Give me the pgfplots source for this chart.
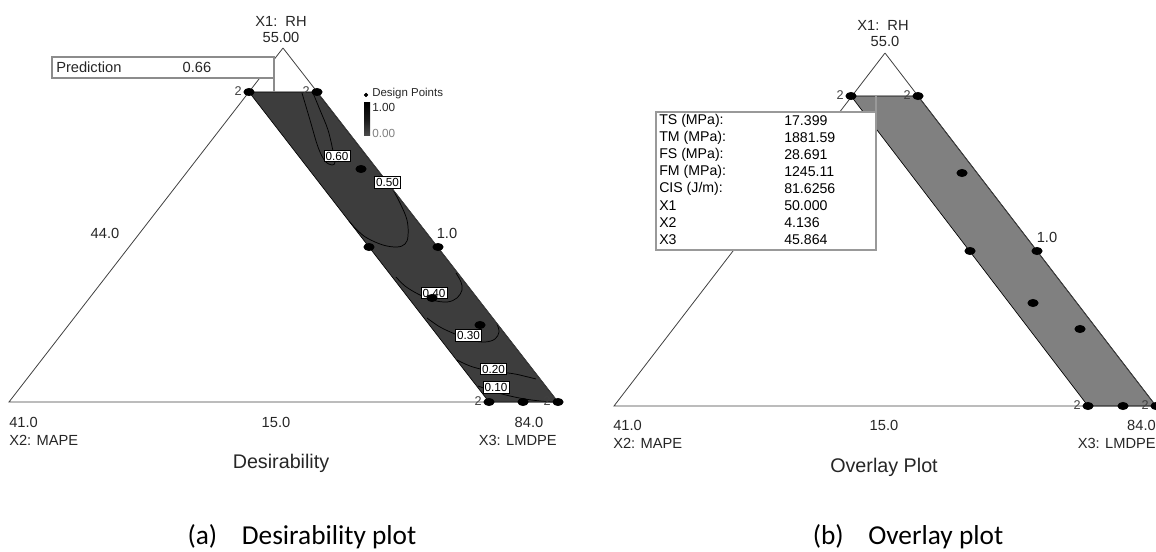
\documentclass[border=0pt]{standalone}
\usepackage{pgfplots}
\pgfplotsset{compat=1.18}
\usepackage{fontspec}
\setmainfont{Liberation Sans}
\newfontfamily\capfont{Carlito}
\tikzset{
  lbl/.style={font=\fontsize{11}{12}\selectfont, inner sep=0pt, text=black!85},
  two/.style={font=\fontsize{9.5}{10}\selectfont, inner sep=0pt, text=black!75, anchor=east},
  clab/.style={draw=black, fill=white, line width=0.4pt, inner sep=1.2pt, font=\fontsize{8.8}{9}\selectfont},
  boxt/.style={font=\fontsize{10.6}{12}\selectfont, inner sep=0pt, anchor=west},
}
\pgfplotsset{
  dots/.style={only marks, mark=*, mark size=2.8pt, mark options={fill=black, draw=black, xscale=1.4}},
  cont/.style={black, line width=0.55pt, smooth, tension=0.6},
}
\begin{document}
\begin{tikzpicture}
\begin{axis}[
  scale only axis, width=867pt, height=414pt,
  xmin=0, xmax=1156, ymin=0, ymax=552, y dir=reverse,
  hide axis, clip=false,
]
% ================= LEFT: Desirability =================
\addplot[fill=black!76, draw=black, line width=0.5pt] coordinates {(249,92) (317,92) (558,402) (489,402) (249,92)};
% contours
\addplot[cont] coordinates {(302,93) (310,120) (318,147) (325,161) (332,165) (335,162) (333,151) (328,130) (320,110) (313,93)};
\addplot[cont] coordinates {(349,221) (357,230) (367,238) (383,245) (397,247) (405,244) (408,236) (407,220) (400,203) (392,188)};
\addplot[cont] coordinates {(396,277) (405,286) (418,294) (432,300) (447,302) (457,298) (462,290) (461,282) (456,273)};
\addplot[cont] coordinates {(427,318) (440,327) (455,334) (470,340) (485,342) (495,339) (499,332) (497,324)};
\addplot[cont] coordinates {(457,360) (470,366) (485,370) (500,372) (515,374) (528,377) (536,379)};
\addplot[cont] coordinates {(478,386) (495,392) (510,396) (525,399) (540,401) (552,402)};
% triangle
\addplot[draw=black!75, line width=0.6pt] coordinates {(283,48) (9,402) (558,402) (283,48)};
% prediction box
\draw[fill=white, draw=black!45, line width=0.8pt] (axis cs:52,57) rectangle (axis cs:274,78);
\draw[draw=black!45, line width=0.8pt] (axis cs:274,78) -- (axis cs:274,92);
\node[lbl, anchor=west] at (axis cs:56,67.5) {Prediction};
\node[lbl] at (axis cs:197,67.5) {0.66};
% design points
\addplot[dots] coordinates {(249,92) (317,92) (361,169) (369,247) (438,247) (432,298) (480,325) (489,402) (523,402) (558,402)};
\node[two] at (axis cs:242,91) {2};
\node[two] at (axis cs:310,91) {2};
\node[two] at (axis cs:482,401) {2};
\node[two] at (axis cs:551,401) {2};
% contour labels
\node[clab] at (axis cs:337,156) {0.60};
\node[clab] at (axis cs:387.5,182.5) {0.50};
\node[clab] at (axis cs:434,293) {0.40};
\node[clab] at (axis cs:468.5,335.5) {0.30};
\node[clab] at (axis cs:493.5,369) {0.20};
\node[clab] at (axis cs:496,387.5) {0.10};
% legend
\addplot[only marks, mark=*, mark size=1.4pt, mark options={fill=black}] coordinates {(366,95)};
\node[anchor=west, inner sep=0pt, font=\fontsize{8.6}{9}\selectfont, text=black!85] at (axis cs:372,94) {Design Points};
\shade[top color=black, bottom color=black!70, middle color=black!90] (axis cs:364,103) rectangle (axis cs:370,136);
\node[anchor=west, inner sep=0pt, font=\fontsize{8.8}{9}\selectfont, text=black!85] at (axis cs:372,107) {1.00};
\node[anchor=west, inner sep=0pt, font=\fontsize{8.8}{9}\selectfont, text=black!50] at (axis cs:372,133) {0.00};
% axis texts
\node[lbl] at (axis cs:281,21) {X1:\ \ RH};
\node[lbl] at (axis cs:281,37) {55.00};
\node[lbl] at (axis cs:105,233) {44.0};
\node[lbl] at (axis cs:447,233) {1.0};
\node[lbl, anchor=west] at (axis cs:9,422) {41.0};
\node[lbl] at (axis cs:276,422) {15.0};
\node[lbl] at (axis cs:529,422) {84.0};
\node[lbl, anchor=west] at (axis cs:9,440) {X2: MAPE};
\node[lbl, anchor=east] at (axis cs:557,440) {X3: LMDPE};
\node[inner sep=0pt, font=\fontsize{14.8}{16}\selectfont, text=black!85] at (axis cs:281,463) {Desirability};
\node[inner sep=0pt, font=\capfont\fontsize{20.5}{22}\selectfont] at (axis cs:302,537) {(a)\hspace{0.9em}Desirability plot};
% ================= RIGHT: Overlay =================
\addplot[fill=black!50, draw=black, line width=0.5pt] coordinates {(851,96) (918,96) (1156,406) (1088,406) (851,96)};
\addplot[draw=black!75, line width=0.6pt] coordinates {(885,53) (614,406) (1156,406) (885,53)};
\draw[fill=white, draw=black!40, line width=0.9pt] (axis cs:656,112) rectangle (axis cs:876,250);
\draw[draw=black!40, line width=0.9pt] (axis cs:876,112) -- (axis cs:876,96);
\node[boxt] at (axis cs:659,121) {TS (MPa):};
\node[boxt] at (axis cs:659,138) {TM (MPa):};
\node[boxt] at (axis cs:659,155) {FS (MPa):};
\node[boxt] at (axis cs:659,172) {FM (MPa):};
\node[boxt] at (axis cs:659,189) {CIS (J/m):};
\node[boxt] at (axis cs:659,206) {X1};
\node[boxt] at (axis cs:659,223) {X2};
\node[boxt] at (axis cs:659,240) {X3};
\node[boxt] at (axis cs:784,121) {17.399};
\node[boxt] at (axis cs:784,138) {1881.59};
\node[boxt] at (axis cs:784,155) {28.691};
\node[boxt] at (axis cs:784,172) {1245.11};
\node[boxt] at (axis cs:784,189) {81.6256};
\node[boxt] at (axis cs:784,206) {50.000};
\node[boxt] at (axis cs:784,223) {4.136};
\node[boxt] at (axis cs:784,240) {45.864};
\addplot[dots] coordinates {(851,96) (918,96) (962,173) (970,251) (1037,251) (1033,303) (1080,329) (1088,406) (1123,406) (1156,406)};
\node[two] at (axis cs:844,95) {2};
\node[two] at (axis cs:911,95) {2};
\node[two] at (axis cs:1081,405) {2};
\node[two] at (axis cs:1149,405) {2};
\node[lbl] at (axis cs:883,25) {X1:\ \ RH};
\node[lbl] at (axis cs:885,41) {55.0};
\node[lbl] at (axis cs:1047,237) {1.0};
\node[lbl, anchor=west] at (axis cs:613,425) {41.0};
\node[lbl] at (axis cs:884,425) {15.0};
\node[lbl, anchor=east] at (axis cs:1156,425) {84.0};
\node[lbl, anchor=west] at (axis cs:613,443) {X2: MAPE};
\node[lbl, anchor=east] at (axis cs:1156,443) {X3: LMDPE};
\node[inner sep=0pt, font=\fontsize{14.8}{16}\selectfont, text=black!85] at (axis cs:884,467) {Overlay Plot};
\node[inner sep=0pt, font=\capfont\fontsize{20.5}{22}\selectfont] at (axis cs:908,537) {(b)\hspace{0.9em}Overlay plot};
\end{axis}
\pgfresetboundingbox
\path (0,0) rectangle (867pt,414pt);
\end{tikzpicture}
\end{document}
